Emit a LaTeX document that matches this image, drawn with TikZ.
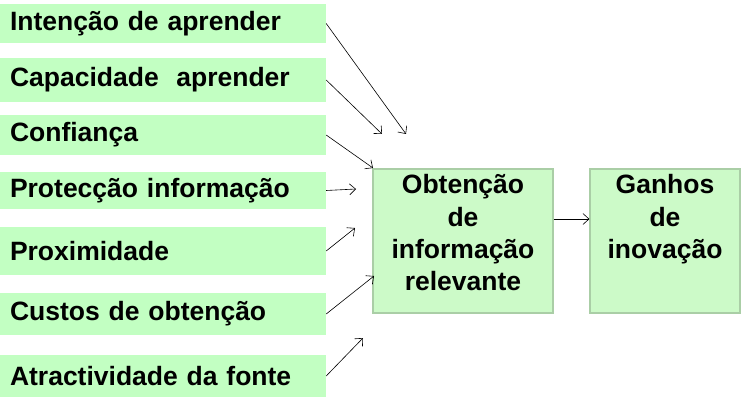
\documentclass[tikz,border=0pt]{standalone}
\usepackage{fontspec}
\setmainfont{Liberation Sans}
\usepackage{tikz}
\usetikzlibrary{arrows.meta}
\definecolor{boxgreen}{RGB}{194,255,194}
\definecolor{blockgreen}{RGB}{204,250,200}
\definecolor{blockedge}{RGB}{170,206,166}
\newcommand{\obfont}{\fontsize{26.5}{32.3}\selectfont\bfseries}

\begin{document}
\begin{tikzpicture}[x=1pt,y=-1pt,style=thin,
	conn/.style={-{Straight Barb[length=6pt,width=11pt]},line width=0.6pt}]
	\useasboundingbox (0,0) rectangle (741,398);
			\begin{scope}[shape=rectangle,inner xsep=10pt,inner ysep=0pt]
			\tikzstyle{every node}=[fill=boxgreen,text width=306pt,minimum height=42pt,font=\obfont,align=left]
			\node[minimum height=39pt] (intencao) at (163,23.5) {Intenção de aprender};
			\node[minimum height=44pt] (capacidade) at (163,80) {Capacidade~ aprender};
			\node[minimum height=40pt] (confianca) at (163,135) {Confiança};
			\node[minimum height=37pt] (proteccao) at (163,190.5) {Protecção informação};
			\node[minimum height=48pt] (proximidade) at (163,251) {Proximidade};
			\node (custos) at (163,314) {Custos de obtenção};
			\node (atractividade) at (163,376) {Atractividade da fonte};
			\end{scope}
			\begin{scope}[minimum height=144pt]
			\tikzstyle{every node}=[fill=blockgreen,draw=blockedge,line width=1.2pt]
			\node[minimum width=180pt] (obtencao) at (463,241) {};
			\node[minimum width=150pt] (ganhos) at (665,241) {};
			\end{scope}
			\node[anchor=north,align=center,inner sep=0pt,font=\obfont] (obtencao_txt) at ([yshift=-6pt]obtencao.north) {Obtenção\\de\\informação\\relevante};
			\node[anchor=north,align=center,inner sep=0pt,font=\obfont] (ganhos_txt) at ([yshift=-6pt]ganhos.north) {Ganhos\\de\\inovação};
			\coordinate (c_1) at (406,134);
			\coordinate (c_2) at (382,134);
			\coordinate (c_3) at (373,168);
			\coordinate (c_4) at (356,189);
			\coordinate (c_5) at (355,228);
			\coordinate (c_6) at (374,276);
			\coordinate (c_7) at (363,338);
			\draw [conn] (intencao.east) -- (c_1);
			\draw [conn] (capacidade.east) -- (c_2);
			\draw [conn] (confianca.east) -- (c_3);
			\draw [conn] (proteccao.east) -- (c_4);
			\draw [conn] (proximidade.east) -- (c_5);
			\draw [conn] (custos.east) -- (c_6);
			\draw [conn] (atractividade.east) -- (c_7);
			\draw [conn] ([yshift=22pt]obtencao.east) -- ([yshift=22pt]ganhos.west);
		\end{tikzpicture}
\end{document}
